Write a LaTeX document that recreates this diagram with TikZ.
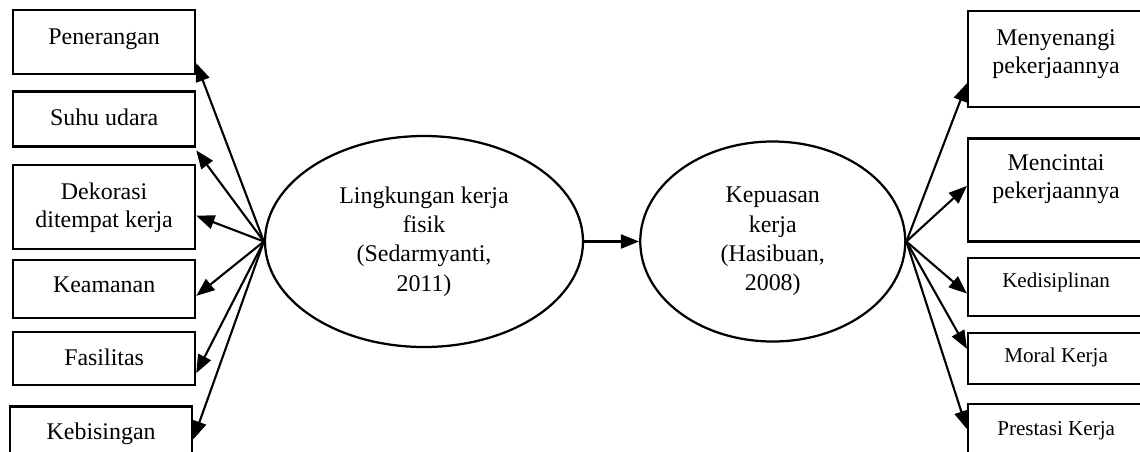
\documentclass[tikz,border=0pt]{standalone}
\usepackage{fontspec}
\setmainfont{Liberation Serif}
\usetikzlibrary{positioning, shapes.geometric, arrows.meta}

\begin{document}
\begin{tikzpicture}[
        node distance=0.4cm,
        every node/.style={font=\fontsize{17}{20}\selectfont},
        box/.style={draw, rectangle, line width=1.6pt, inner sep=0pt, minimum width=4.55cm, align=center},
        rbox/.style={box, minimum width=4.4cm},
        small/.style={font=\fontsize{15}{18}\selectfont},
        oval/.style={draw, ellipse, line width=1.6pt, inner sep=0pt, align=center, font=\fontsize{17}{20.8}\selectfont},
        arr/.style={-{Triangle[length=13pt, width=10pt]}, line width=1.5pt}
    ]
    \useasboundingbox (0,0) rectangle (28.5,-11.275);

    % lingkungan kerja fisik
    \node[box, anchor=north west, text height=0.85cm, text depth=0.75cm] (pen) at (0.3,-0.225) {Penerangan};
    \node[box, below=0.375cm of pen, text height=0.85cm, text depth=0.525cm] (suhu) {Suhu udara};
    \node[box, below=0.4cm of suhu, text height=1.575cm, text depth=0.525cm] (dek) {Dekorasi \\ ditempat kerja};
    \node[box, below=0.225cm of dek, text height=0.825cm, text depth=0.625cm] (kea) {Keamanan};
    \node[box, below=0.3cm of kea, text height=0.825cm, text depth=0.5cm] (fas) {Fasilitas};
    \node[box, below=0.475cm of fas, xshift=-0.075cm, text height=0.825cm, text depth=1.325cm] (keb) {Kebisingan};

    \node[oval, minimum width=7.95cm, minimum height=5.275cm] (lk) at (10.6,-6.0375) {Lingkungan kerja \\ fisik \\ (Sedarmyanti, \\ 2011)};
    \node[oval, minimum width=6.625cm, minimum height=5cm, right=1.375cm of lk] (kp) {Kepuasan \\ kerja \\ (Hasibuan, \\ 2008)};

    % kepuasan kerja
    \node[rbox, anchor=north west, text height=1.55cm, text depth=0.85cm] (meny) at (24.175,-0.25) {Menyenangi \\ pekerjaannya};
    \node[rbox, below=0.725cm of meny, text height=1.5cm, text depth=1.075cm] (menc) {Mencintai \\ pekerjaannya};
    \node[rbox, small, below=0.35cm of menc, text height=0.75cm, text depth=0.7cm] (kedi) {Kedisiplinan};
    \node[rbox, small, below=0.375cm of kedi, text height=0.75cm, text depth=0.525cm] (moral) {Moral Kerja};
    \node[rbox, small, below=0.45cm of moral, text height=0.775cm, text depth=1.375cm] (pres) {Prestasi Kerja};

    \draw[arr] (lk.west) -- ([yshift=-0.525cm]pen.east);
    \draw[arr] (lk.west) -- ([yshift=-0.7875cm]suhu.east);
    \draw[arr] (lk.west) -- ([yshift=-0.225cm]dek.east);
    \draw[arr] (lk.west) -- ([yshift=-0.175cm]kea.east);
    \draw[arr] (lk.west) -- ([yshift=-0.3625cm]fas.east);
    \draw[arr] (lk.west) -- ([yshift=0.25cm]keb.east);

    \draw[arr] (lk.east) -- (kp.west);

    \draw[arr] (kp.east) -- ([yshift=-0.6cm]meny.west);
    \draw[arr] (kp.east) -- ([yshift=0.1cm]menc.west);
    \draw[arr] (kp.east) -- ([yshift=-0.175cm]kedi.west);
    \draw[arr] (kp.east) -- ([yshift=0.2375cm]moral.west);
    \draw[arr] (kp.east) -- ([yshift=0.45cm]pres.west);

\end{tikzpicture}
\end{document}
